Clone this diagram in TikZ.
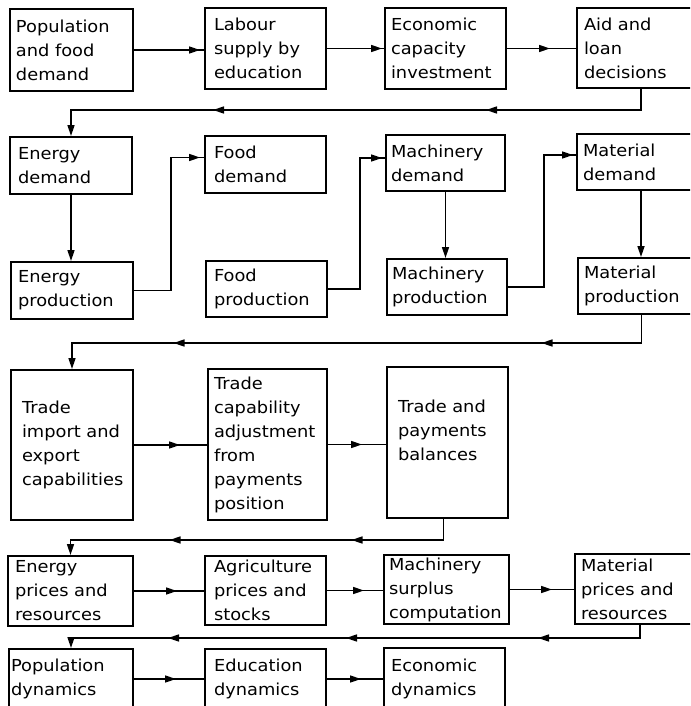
\documentclass[tikz,border=0pt]{standalone}
\usepackage{fontspec}
\newfontfamily\bxfont[FakeStretch=1.08]{DejaVu Sans}
\usetikzlibrary{arrows.meta,calc,decorations.markings}

\tikzset{
  box/.style={draw, line width=2pt, inner ysep=0pt, align=left, anchor=north west,
    font={\bxfont\fontsize{16.5}{24}\selectfont}},
  conn/.style={line width=1.6pt},
  tipa/.style={-{Triangle[length=11pt,width=7pt]}},
  arrat/.style={postaction={decorate, decoration={markings,
    mark=at position #1 with {\arrow{Triangle[length=11pt,width=7pt]}}}}}
}

\newcommand{\flowbox}[7]{%
  \pgfmathsetmacro{\bxtw}{#4-#2-2*#6}%
  \pgfmathsetmacro{\bxh}{#5-#3}%
  \node[box, inner xsep=#6pt, text width=\bxtw pt, minimum height=\bxh pt] (#1) at (#2,#3) {#7};}

\begin{document}
\begin{tikzpicture}[x=1pt,y=-1pt]
\useasboundingbox (0,0) rectangle (690,706);
\clip (0,0) rectangle (690,706);

% row 1
\flowbox{P}{9}{8}{132}{90}{6}{Population\\and food\\demand}
\flowbox{L}{204}{7}{325}{88}{9}{Labour\\supply by\\education}
\flowbox{E}{384}{7}{505}{88}{6}{Economic\\capacity\\investment}
\flowbox{A}{576}{7}{704}{87}{7}{Aid and\\loan\\decisions}
% row 2
\flowbox{ED}{9}{136}{131}{193}{8}{Energy\\demand}
\flowbox{FD}{204}{135}{325}{192}{9}{Food\\demand}
\flowbox{MD}{385}{134}{504}{190}{5}{Machinery\\demand}
\flowbox{MtD}{576}{133}{704}{189}{6}{Material\\demand}
% row 3
\flowbox{EP}{10}{261}{132}{318}{7}{Energy\\production}
\flowbox{FP}{205}{260}{326}{316}{8}{Food\\production}
\flowbox{MP}{386}{258}{506}{314}{5}{Machinery\\production}
\flowbox{MtP}{577}{257}{704}{313}{6}{Material\\production}
% row 4
\flowbox{TI}{10}{369}{132}{519}{11}{Trade\\import and\\export\\capabilities}
\flowbox{TC}{207}{368}{326}{519}{6}{Trade\\capability\\adjustment\\from\\payments\\position}
\flowbox{TP}{386}{366}{507}{517}{11}{Trade and\\payments\\balances\\\mbox{}}
% row 5
\flowbox{EPR}{7}{555}{132}{625}{7}{Energy\\prices and\\resources}
\flowbox{AG}{204}{555}{325}{624}{9}{Agriculture\\prices and\\stocks}
\flowbox{MS}{383}{554}{508}{623}{5}{Machinery\\surplus\\computation}
\flowbox{MPR}{574}{553}{704}{623}{6}{Material\\prices and\\resources}
% row 6
\flowbox{PD}{8}{648}{132}{708}{2}{Population\\dynamics}
\flowbox{EdD}{204}{648}{325}{708}{9}{Education\\dynamics}
\flowbox{EcD}{383}{647}{504}{708}{7}{Economic\\dynamics}

% row 1 connectors
\draw[conn, arrat=-4pt] (P.east) -- (P.east -| L.west);
\draw[conn, arrat=-2pt] (L.east) -- (L.east -| E.west);
\draw[conn, arrat=43pt] (E.east) -- (E.east -| A.west);
\draw[conn, tipa, arrat=176pt, arrat=449pt] (A.south) -- ++(0,21) -| (ED.north);

% rows 2-3
\draw[conn, tipa] (ED.south) -- (ED.south |- EP.north);
\draw[conn, tipa] (MD.south) -- (MD.south |- MP.north);
\draw[conn, tipa] (MtD.south) -- (MtD.south |- MtP.north);
\draw[conn, arrat=-4pt] (EP.east) -- ++(37,0) |- ($(FD.west)+(0,-7)$);
\draw[conn, arrat=-3pt] (FP.east) -- ++(32,0) |- ($(MD.west)+(0,-5)$);
\draw[conn, arrat=-3pt] (MP.east) -- ++(36,0) |- ($(MtD.west)+(0,-7)$);
\draw[conn, tipa, arrat=128pt, arrat=496pt] (MtP.south) -- ++(0,28) -| (TI.north);

% row 4
\draw[conn, arrat=46pt] (TI.east) -- (TI.east -| TC.west);
\draw[conn, arrat=34pt] (TC.east) -- (TC.east -| TP.west);
\draw[conn, tipa, arrat=113pt, arrat=295pt] ($(TP.south)+(-4,0)$) -- ++(0,21) -| (EPR.north);

% row 5
\draw[conn, arrat=43pt] (EPR.east) -- (EPR.east -| AG.west);
\draw[conn, arrat=37pt] (AG.east) -- (AG.east -| MS.west);
\draw[conn, arrat=42pt] (MS.east) -- (MS.east -| MPR.west);
\draw[conn, tipa, arrat=115pt, arrat=307pt, arrat=485pt] (MPR.south) -- ++(0,13) -| (PD.north);

% row 6
\draw[conn, arrat=42pt] (PD.east) -- (PD.east -| EdD.west);
\draw[conn, arrat=34pt] (EdD.east) -- (EdD.east -| EcD.west);
\end{tikzpicture}
\end{document}
